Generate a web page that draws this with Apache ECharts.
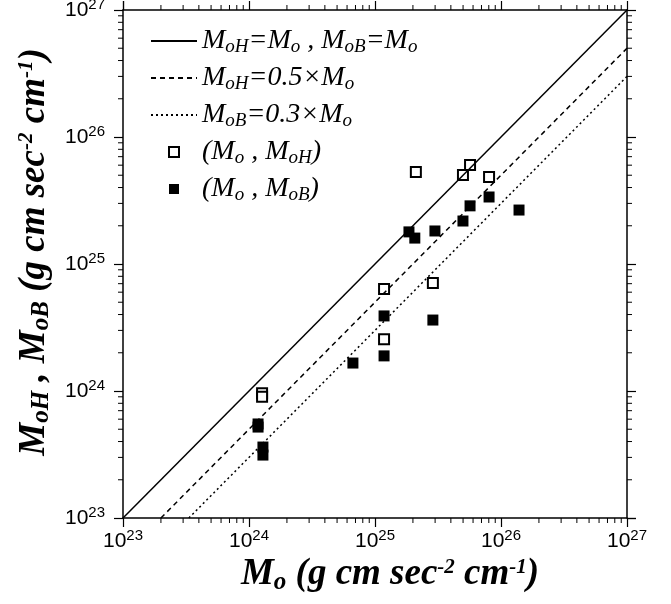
<!DOCTYPE html>
<html>
<head>
<meta charset="utf-8">
<script src="https://cdn.jsdelivr.net/npm/echarts@6/dist/echarts.min.js"></script>
<style>
  html, body { margin: 0; padding: 0; background: #fff; }
  #chart { width: 671px; height: 604px; }
</style>
</head>
<body>
<div id="chart"></div>
<script>
// axis range (log)
const axisMin = 1e23;
const axisMax = 1e27;

// reference lines, end points
const lineEqual = [[1e23, 1e23], [1e27, 1e27]];
const lineHalf = [[2e23, 1e23], [1e27, 5e26]];
const lineThird = [[3.33e23, 1e23], [1e27, 3e26]];

// (Mo, MoH) open squares
const moH = [
  [1.27e24, 9.6e23], [1.27e24, 9.0e23], [1.18e25, 6.35e24], [1.18e25, 2.56e24],
  [2.11e25, 5.3e25], [2.88e25, 7.08e24], [4.99e25, 5.02e25], [5.68e25, 6.03e25],
  [8.04e25, 4.84e25]
];

// (Mo, MoB) filled squares
const moB = [
  [1.18e24, 5.5e23], [1.18e24, 5.2e23], [1.29e24, 3.62e23], [1.29e24, 3.13e23],
  [6.68e24, 1.66e24], [1.18e25, 1.89e24], [1.18e25, 3.9e24], [2.88e25, 3.62e24],
  [1.86e25, 1.79e25], [2.07e25, 1.6e25], [2.99e25, 1.82e25], [4.99e25, 2.18e25],
  [5.68e25, 2.87e25], [8.04e25, 3.37e25], [1.39e26, 2.66e25]
];

// minor tick positions 2..9 x 10^k
const minorTicks = [];
for (let k = 23; k < 27; k++) {
  for (let m = 2; m <= 9; m++) minorTicks.push([m * Math.pow(10, k), m * Math.pow(10, k)]);
}

const legendText = {
  eq: '{m|M}{s|oH}{m|=M}{s|o}{m| , M}{s|oB}{m|=M}{s|o}',
  half: '{m|M}{s|oH}{m|=0.5×M}{s|o}',
  third: '{m|M}{s|oB}{m|=0.3×M}{s|o}',
  openSq: '{m|(M}{s|o}{m| , M}{s|oH}{m|)}',
  fillSq: '{m|(M}{s|o}{m| , M}{s|oB}{m|)}'
};

const serif = '"Liberation Serif", "Times New Roman", serif';
const sans = '"Liberation Sans", Arial, sans-serif';

function tickLabel(margin) {
  return {
    color: '#000',
    fontFamily: sans,
    fontSize: 21,
    margin: margin,
    formatter: function (v) {
      return '10{sup|' + Math.round(Math.log10(v)) + '}';
    },
    rich: { sup: { fontSize: 15, fontFamily: sans, color: '#000', padding: [0, 0, 11, 0] } }
  };
}

const nameRich = {
  t: { fontFamily: serif, fontSize: 37, fontWeight: 'bold', fontStyle: 'italic', color: '#000' },
  o: { fontFamily: serif, fontSize: 25, fontWeight: 'bold', fontStyle: 'italic', color: '#000', padding: [15, 0, 0, 0] },
  sup: { fontFamily: serif, fontSize: 21, fontWeight: 'bold', fontStyle: 'italic', color: '#000', padding: [0, 0, 15, 0] }
};

function logAxis(pos, label) {
  return {
    type: 'log',
    position: pos,
    min: axisMin,
    max: axisMax,
    logBase: 10,
    splitLine: { show: false },
    axisLine: { show: true, lineStyle: { color: '#000', width: 1.5 } },
    axisTick: { show: true, length: 9, lineStyle: { color: '#000', width: 1.2 } },
    axisLabel: label || { show: false }
  };
}

const chart = echarts.init(document.getElementById('chart'));

const xBottom = logAxis('bottom', tickLabel(10));
xBottom.name = '{t|M}{o|o}{t| (g cm sec}{sup|-2}{t| cm}{sup|-1}{t|)}';
xBottom.nameLocation = 'middle';
xBottom.nameGap = 36;
xBottom.nameTextStyle = { rich: nameRich, verticalAlign: 'top', padding: [0, 0, 0, 30] };

const yLeft = logAxis('left', tickLabel(18));
yLeft.name = '{t|M}{o|oH}{t| , M}{o|oB}{t| (g cm sec}{sup|-2}{t| cm}{sup|-1}{t|)}';
yLeft.nameLocation = 'middle';
yLeft.nameGap = 67;
yLeft.nameTextStyle = { rich: nameRich, padding: [0, 0, 0, 24] };

const option = {
  animation: false,
  backgroundColor: '#fff',
  grid: { left: 123, right: 44, top: 10, bottom: 86, outerBoundsMode: 'none', containLabel: false },
  xAxis: [xBottom, logAxis('top')],
  yAxis: [yLeft, logAxis('right')],
  legend: {
    orient: 'vertical',
    left: 145,
    top: 22,
    itemGap: 7.5,
    itemWidth: 46,
    itemHeight: 10,
    data: [
      { name: 'eq', itemStyle: { opacity: 0 } },
      { name: 'half', itemStyle: { opacity: 0 } },
      { name: 'third', itemStyle: { opacity: 0 } },
      { name: 'openSq', icon: 'path://M0,0h10v10h-10z' },
      { name: 'fillSq', icon: 'path://M0,0h10v10h-10z' }
    ],
    formatter: function (name) { return legendText[name]; },
    textStyle: {
      rich: {
        m: { fontFamily: serif, fontStyle: 'italic', fontSize: 28, color: '#000' },
        s: { fontFamily: serif, fontStyle: 'italic', fontSize: 19, color: '#000', padding: [12, 0, 0, 0] }
      }
    }
  },
  series: [
    {
      name: 'eq', type: 'line', data: lineEqual, showSymbol: false, symbol: 'none',
      lineStyle: { color: '#000', width: 1.5, type: 'solid' }, itemStyle: { color: '#000' }
    },
    {
      name: 'half', type: 'line', data: lineHalf, showSymbol: false, symbol: 'none',
      lineStyle: { color: '#000', width: 1.5, type: [5, 4] }, itemStyle: { color: '#000' }
    },
    {
      name: 'third', type: 'line', data: lineThird, showSymbol: false, symbol: 'none',
      lineStyle: { color: '#000', width: 1.5, type: [2, 3] }, itemStyle: { color: '#000' }
    },
    {
      name: 'openSq', type: 'scatter', data: moH, symbol: 'rect', symbolSize: 10,
      itemStyle: { color: '#fff', borderColor: '#000', borderWidth: 2, opacity: 1 }
    },
    {
      name: 'fillSq', type: 'scatter', data: moB, symbol: 'rect', symbolSize: 11,
      itemStyle: { color: '#000', opacity: 1 }
    },
    {
      name: 'minor', type: 'custom', data: minorTicks, clip: false, silent: true,
      renderItem: function (params, api) {
        const v = api.value(0);
        const cs = params.coordSys;
        const px = api.coord([v, axisMin])[0];
        const py = api.coord([axisMin, v])[1];
        const st = { stroke: '#000', lineWidth: 1 };
        const b = cs.y + cs.height, r = cs.x + cs.width;
        return {
          type: 'group',
          children: [
            { type: 'line', shape: { x1: px, y1: b, x2: px, y2: b + 5 }, style: st },
            { type: 'line', shape: { x1: px, y1: cs.y, x2: px, y2: cs.y - 5 }, style: st },
            { type: 'line', shape: { x1: cs.x, y1: py, x2: cs.x - 5, y2: py }, style: st },
            { type: 'line', shape: { x1: r, y1: py, x2: r + 5, y2: py }, style: st }
          ]
        };
      }
    }
  ]
};

chart.setOption(option);
</script>
</body>
</html>
